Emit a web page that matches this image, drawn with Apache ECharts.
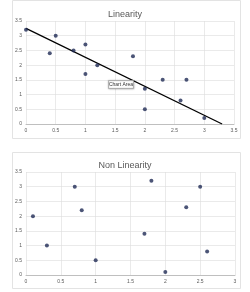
<!DOCTYPE html>
<html><head><meta charset="utf-8">
<script src="https://cdn.jsdelivr.net/npm/echarts@6/dist/echarts.min.js"></script>
<style>html,body{margin:0;padding:0;background:#fff}#c{width:250px;height:292px}</style>
</head><body><div id="c"></div>
<script>
const titles = ['Linearity', 'Non Linearity'];
const linearPoints = [[0,3.2],[0.4,2.4],[0.5,3.0],[0.8,2.5],[1,2.7],[1,1.7],[1.2,2.0],[1.8,2.3],[2,1.2],[2,0.5],[2.3,1.5],[2.6,0.8],[2.7,1.5],[3,0.2]];
const trendLine = [[0,3.25],[3.3,0]];
const nonLinearPoints = [[0.1,2.0],[0.3,1.0],[0.7,3.0],[0.8,2.2],[1.0,0.5],[1.7,1.4],[1.8,3.2],[2.0,0.1],[2.3,2.3],[2.5,3.0],[2.6,0.8]];
const xMax = [3.5, 3];
const yMax = 3.5;
const tip = 'Chart Area';

const font = 'Liberation Sans, Arial, sans-serif';
const gridCol = '#dcdcdc';
const lblCol = '#595959';
function xAxis(i){return {type:'value',gridIndex:i,min:0,max:xMax[i],interval:0.5,
  axisLine:{show:true,lineStyle:{color:'#bfbfbf'}},axisTick:{show:false},
  axisLabel:{fontSize:5,color:lblCol,fontFamily:font,margin:4},
  splitLine:{show:true,lineStyle:{color:gridCol,width:0.6}}};}
function yAxis(i){return {type:'value',gridIndex:i,min:0,max:yMax,interval:0.5,
  axisLine:{show:false},axisTick:{show:false},
  axisLabel:{fontSize:5,color:lblCol,fontFamily:font,margin:4},
  splitLine:{show:true,lineStyle:{color:gridCol,width:0.6}}};}
const chart = echarts.init(document.getElementById('c'),null,{renderer:'canvas'});
chart.setOption({
  animation:false,
  title:[
    {text:titles[0],left:'center',top:5,textStyle:{fontSize:9,fontWeight:'normal',color:lblCol,fontFamily:font}},
    {text:titles[1],left:'center',top:156,textStyle:{fontSize:9,fontWeight:'normal',color:lblCol,fontFamily:font}}
  ],
  grid:[
    {left:26,right:16,top:21,height:103},
    {left:26,right:15,top:172,height:103}
  ],
  xAxis:[xAxis(0),xAxis(1)],
  yAxis:[yAxis(0),yAxis(1)],
  graphic:[
    {type:'rect',shape:{x:12.5,y:0.5,width:228,height:138},style:{fill:'none',stroke:'#e3e3e3',lineWidth:1},z:-1},
    {type:'rect',shape:{x:12.5,y:152.5,width:228,height:136},style:{fill:'none',stroke:'#e3e3e3',lineWidth:1},z:-1},
    {type:'rect',shape:{x:108.5,y:80.5,width:25,height:8},style:{fill:'#fff',stroke:'#a0a0a0',lineWidth:0.7,shadowBlur:2,shadowColor:'rgba(0,0,0,0.3)'},z:100},
    {type:'text',x:121,y:84.5,style:{text:tip,fontSize:5,fill:'#333',fontFamily:font,align:'center',verticalAlign:'middle'},z:101}
  ],
  series:[
    {type:'line',xAxisIndex:0,yAxisIndex:0,data:trendLine,symbol:'none',lineStyle:{color:'#000',width:1.3},z:3},
    {type:'scatter',xAxisIndex:0,yAxisIndex:0,data:linearPoints,symbolSize:4,itemStyle:{color:'#1f2a55'},z:4},
    {type:'scatter',xAxisIndex:1,yAxisIndex:1,data:nonLinearPoints,symbolSize:4,itemStyle:{color:'#1f2a55'},z:4}
  ]
});
</script></body></html>
